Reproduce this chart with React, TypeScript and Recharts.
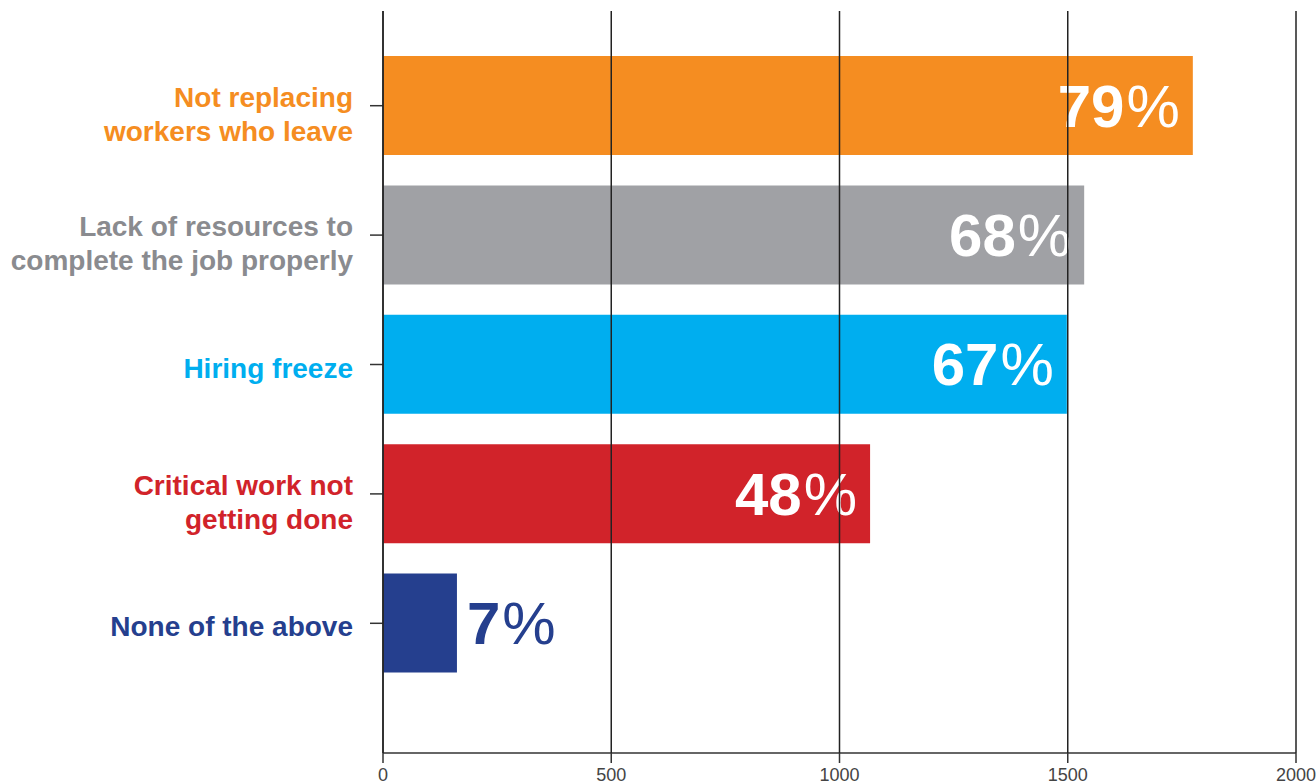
import React from 'react';
import { BarChart, Bar, XAxis, YAxis, CartesianGrid, Cell, LabelList } from 'recharts';

const categories = [
  'Not replacing\nworkers who leave',
  'Lack of resources to\ncomplete the job properly',
  'Hiring freeze',
  'Critical work not\ngetting done',
  'None of the above',
];
const values = [1774, 1536, 1498, 1067, 162];
const percents = [79, 68, 67, 48, 7];
const barColors = ['#F58D21', '#A0A1A5', '#00AEEF', '#D1232A', '#253F8E'];
const labelColors = ['#F58D21', '#8A8B8F', '#00AEEF', '#D1232A', '#253F8E'];
const xTicks = [0, 500, 1000, 1500, 2000];

const data = categories.map((name, i) => ({ name, value: values[i], pct: percents[i] }));

const FONT = '"Liberation Sans", Arial, Helvetica, sans-serif';

const CategoryTick = (props: any) => {
  const { x, y, payload, index } = props;
  const lines = String(payload.value).split('\n');
  const first = lines.length > 1 ? 1 : 13;
  return (
    <text
      x={x}
      y={y + first}
      textAnchor="end"
      fill={labelColors[index]}
      fontSize={28}
      fontWeight="bold"
      fontFamily={FONT}
    >
      {lines.map((line, i) => (
        <tspan key={i} x={x} dy={i === 0 ? 0 : 34}>
          {line}
        </tspan>
      ))}
    </text>
  );
};

const ValueLabel = (props: any) => {
  const { x, y, width, height, index } = props;
  const pct = percents[index];
  const inside = width > 150;
  const tx = inside ? x + width - 13 : x + width + 10;
  return (
    <text
      x={tx}
      y={y + height / 2 + 21}
      textAnchor={inside ? 'end' : 'start'}
      fill={inside ? '#ffffff' : barColors[index]}
      fontSize={60}
      fontFamily={FONT}
    >
      <tspan fontWeight="bold">{pct}</tspan>
      <tspan fontWeight="normal" dx={2}>%</tspan>
    </text>
  );
};

export default function App() {
  return (
    <div style={{ position: 'absolute', left: 0, top: 0, background: '#fff' }}>
      <BarChart
        width={1316}
        height={783}
        data={data}
        layout="vertical"
        margin={{ top: 11, right: 20, bottom: 0, left: 0 }}
      >
        <Bar dataKey="value" barSize={99} isAnimationActive={false}>
          {data.map((_, i) => (
            <Cell key={i} fill={barColors[i]} />
          ))}
          <LabelList dataKey="pct" content={<ValueLabel />} />
        </Bar>
        {/* grid lines sit on top of the bars and labels in the original */}
        <CartesianGrid horizontal={false} stroke="#222" strokeWidth={1.5} zIndex={2000} />
        <XAxis
          type="number"
          domain={[0, 2000]}
          ticks={xTicks}
          height={30}
          tickSize={10}
          tickMargin={5}
          axisLine={{ stroke: '#333', strokeWidth: 1.5 }}
          tickLine={{ stroke: '#333', strokeWidth: 1.5 }}
          tick={{ fill: '#444', fontSize: 18, fontFamily: FONT }}
        />
        <YAxis
          type="category"
          dataKey="name"
          width={383}
          padding={{ top: 30, bottom: 65 }}
          tickSize={13}
          tickMargin={17}
          axisLine={{ stroke: '#333', strokeWidth: 1.5 }}
          tickLine={{ stroke: '#333', strokeWidth: 1.5 }}
          tick={<CategoryTick />}
          interval={0}
        />
      </BarChart>
    </div>
  );
}
